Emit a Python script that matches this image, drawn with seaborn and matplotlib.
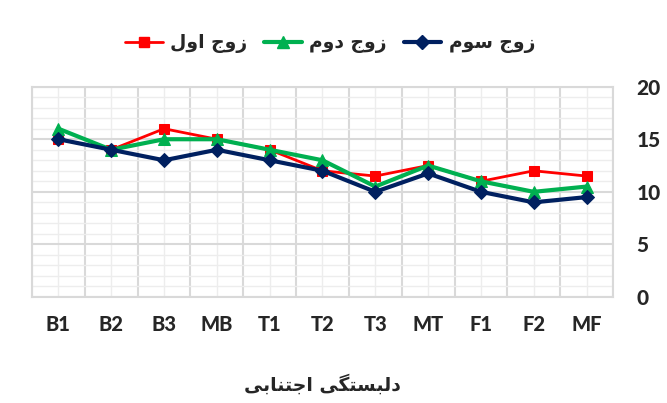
import matplotlib
matplotlib.use("Agg")
import matplotlib.pyplot as plt
from matplotlib.lines import Line2D
from matplotlib.ticker import MultipleLocator, FixedLocator
import pandas as pd
import seaborn as sns

categories = ["B1", "B2", "B3", "MB", "T1", "T2", "T3", "MT", "F1", "F2", "MF"]
pair_1 = [15, 14, 16, 15, 14, 12, 11.5, 12.5, 11, 12, 11.5]
pair_2 = [16, 14, 15, 15, 14, 13, 10.5, 12.5, 11, 10, 10.5]
pair_3 = [15, 14, 13, 14, 13, 12, 10, 11.75, 10, 9, 9.5]
series_names = ["زوج اول", "زوج دوم", "زوج سوم"]
x_title = "دلبستگی اجتنابی"
y_ticks = [0, 5, 10, 15, 20]

# matplotlib has no Arabic shaping, so map letters to presentation forms and reverse
FORMS = {
    "ا": ("\uFE8D", "\uFE8E", None, None),
    "ب": ("\uFE8F", "\uFE90", "\uFE91", "\uFE92"),
    "ت": ("\uFE95", "\uFE96", "\uFE97", "\uFE98"),
    "ج": ("\uFE9D", "\uFE9E", "\uFE9F", "\uFEA0"),
    "د": ("\uFEA9", "\uFEAA", None, None),
    "ز": ("\uFEAF", "\uFEB0", None, None),
    "س": ("\uFEB1", "\uFEB2", "\uFEB3", "\uFEB4"),
    "ل": ("\uFEDD", "\uFEDE", "\uFEDF", "\uFEE0"),
    "م": ("\uFEE1", "\uFEE2", "\uFEE3", "\uFEE4"),
    "ن": ("\uFEE5", "\uFEE6", "\uFEE7", "\uFEE8"),
    "و": ("\uFEED", "\uFEEE", None, None),
    "گ": ("\uFB92", "\uFB93", "\uFB94", "\uFB95"),
    "ی": ("\uFBFC", "\uFBFD", "\uFBFE", "\uFBFF"),
}


def shape(text):
    out = []
    for i, ch in enumerate(text):
        if ch not in FORMS:
            out.append(ch)
            continue
        iso, fin, ini, med = FORMS[ch]
        prev = text[i - 1] if i > 0 else ""
        nxt = text[i + 1] if i + 1 < len(text) else ""
        join_prev = prev in FORMS and FORMS[prev][2] is not None
        join_next = ini is not None and nxt in FORMS
        if join_prev and join_next:
            out.append(med)
        elif join_prev:
            out.append(fin)
        elif join_next:
            out.append(ini)
        else:
            out.append(iso)
    return "".join(out)[::-1]


styles = {
    series_names[0]: dict(color="#FF0000", marker="s", markersize=7, linewidth=2.0),
    series_names[1]: dict(color="#00B050", marker="^", markersize=8, linewidth=3.0),
    series_names[2]: dict(color="#002060", marker="D", markersize=7, linewidth=3.0),
}

df = pd.DataFrame({
    "category": categories * 3,
    "value": pair_1 + pair_2 + pair_3,
    "series": sum([[s] * len(categories) for s in series_names], []),
})

sns.set_style("white")
plt.rcParams["font.family"] = ["Lato", "DejaVu Sans"]

fig = plt.figure(figsize=(6.67, 4.03), dpi=100)
ax = fig.add_axes([0.048, 0.263, 0.871, 0.522])

for name in series_names:
    st = styles[name]
    sns.lineplot(data=df[df["series"] == name], x="category", y="value", sort=False,
                 color=st["color"], marker=st["marker"], markersize=st["markersize"],
                 markeredgecolor=st["color"], linewidth=st["linewidth"], ax=ax, zorder=3)

ax.set_xlim(-0.5, len(categories) - 0.5)
ax.set_ylim(0, 20)
ax.set_xticks(range(len(categories)))
ax.set_xticklabels(categories, fontsize=14.5, fontweight="black")
ax.xaxis.set_minor_locator(FixedLocator([i - 0.5 for i in range(len(categories) + 1)]))
ax.set_yticks(y_ticks)
ax.yaxis.set_minor_locator(MultipleLocator(1))
ax.yaxis.tick_right()
ax.tick_params(axis="y", which="major", labelsize=15, pad=17, length=0)
ax.tick_params(axis="x", which="major", pad=13, length=0)
ax.tick_params(which="minor", length=0)
for lab in ax.get_yticklabels():
    lab.set_fontweight("black")

ax.grid(axis="x", which="major", color="#EDEDED", linewidth=1.0)
ax.grid(axis="x", which="minor", color="#D9D9D9", linewidth=1.5)
ax.grid(axis="y", which="minor", color="#EDEDED", linewidth=1.0)
ax.grid(axis="y", which="major", color="#D9D9D9", linewidth=1.5)
ax.set_axisbelow(True)
for sp in ax.spines.values():
    sp.set_color("#D9D9D9")
    sp.set_linewidth(1.5)

ax.set_ylabel("")
ax.set_xlabel(shape(x_title), fontsize=13.5, fontweight="bold", family="DejaVu Sans", labelpad=29)

handles = [Line2D([], [], color=styles[n]["color"], marker=styles[n]["marker"],
                  markersize=styles[n]["markersize"], linewidth=styles[n]["linewidth"])
           for n in series_names]
fig.legend(handles, [shape(n) for n in series_names], loc="center", ncol=3,
           bbox_to_anchor=(0.495, 0.893), frameon=False, handlelength=2.0,
           columnspacing=0.9, handletextpad=0.4,
           prop={"family": "DejaVu Sans", "weight": "bold", "size": 13.5})

fig.savefig("out.png", dpi=100)
